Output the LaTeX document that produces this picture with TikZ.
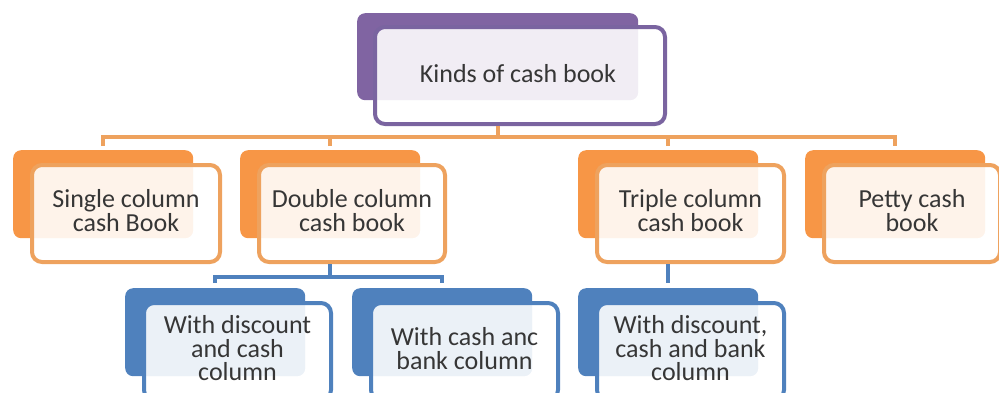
\documentclass[tikz,border=0pt]{standalone}
\usepackage{fontspec}
\setmainfont{Carlito}
\usetikzlibrary{calc}

\definecolor{cpurple}{HTML}{8064A2}
\definecolor{cpurpleline}{HTML}{7A64A0}
\definecolor{corange}{HTML}{F79646}
\definecolor{corangeline}{HTML}{EEA25E}
\definecolor{cblue}{HTML}{4F81BD}
\definecolor{ctext}{HTML}{363636}

\tikzset{
  backcard/.style={rounded corners=8pt, inner sep=0pt, draw=none, anchor=north west},
  frontcard/.style={rounded corners=10pt, inner sep=0pt, line width=4pt,
    fill=white, fill opacity=0.89, draw opacity=1, anchor=north west},
  cardtext/.style={inner sep=0pt, align=center, text=ctext,
    font=\fontsize{26}{23.5}\selectfont},
  obus/.style={draw=corangeline, line width=4.2pt},
  bbus/.style={draw=cblue, line width=4.2pt},
}

% a tab card: back plate, an offset translucent front plate, and its text
% #1 name, #2 plate colour, #3 border colour, #4 back corner, #5 front width, #6 text
\newcommand{\tabcard}[6]{%
  \node[backcard, fill=#2, minimum width=180pt, minimum height=88pt] (#1b) at #4 {};
  \node[frontcard, draw=#3, minimum width=#5pt, minimum height=97pt] (#1)
    at ($(#1b.north west)+(17,13)$) {};
  \node[cardtext] (#1t) at ($(#1.center)+(0,-3)$) {#6};
}

\begin{document}
\begin{tikzpicture}[x=1pt, y=-1pt]
  \path[use as bounding box] (0,0) rectangle (999,392);

  % root
  \node[backcard, fill=cpurple, minimum width=281pt, minimum height=87pt] (rootb) at (357,13) {};
  \node[frontcard, draw=cpurpleline, minimum width=290pt, minimum height=97pt] (root)
    at ($(rootb.north west)+(16,12)$) {};
  \node[cardtext] (roott) at ($(root.center)+(-2,-2)$) {Kinds of cash book};

  % first level
  \tabcard{sgl}{corange}{corangeline}{(13,150)}{188}{Single column\\cash Book}
  \tabcard{dbl}{corange}{corangeline}{(240,150)}{186}{Double column\\cash book}
  \tabcard{trp}{corange}{corangeline}{(578,150)}{187}{Triple column\\cash book}
  \tabcard{pet}{corange}{corangeline}{(805,150)}{176}{Petty cash\\book}

  % second level
  \tabcard{dca}{cblue}{cblue}{(125,288)}{187}{With discount\\and cash\\column}
  \tabcard{cab}{cblue}{cblue}{(352,288)}{187}{With cash anc\\bank column}
  \tabcard{dcb}{cblue}{cblue}{(578,288)}{187}{With discount,\\cash and bank\\column}

  % root to first level
  \coordinate (j1) at ($(rootb.south |- root.south)+(0,11)$);
  \draw[obus] (rootb.south |- root.south) -- (j1);
  \draw[obus] ($(sglb.north)+(0,-4)$) |- (j1) -| ($(petb.north)+(0,-4)$);
  \draw[obus] ($(dblb.north)+(0,-4)$) -- (dblb.north |- j1);
  \draw[obus] ($(trpb.north)+(0,-4)$) -- (trpb.north |- j1);

  % double column to its kinds
  \coordinate (j2) at ($(dblb.south |- dbl.south)+(0,13)$);
  \draw[bbus] (dblb.south |- dbl.south) -- (j2);
  \draw[bbus] ($(dcab.north)+(0,-5)$) |- (j2) -| ($(cabb.north)+(0,-5)$);

  % triple column to its kind
  \draw[bbus] (trpb.south |- trp.south) -- ($(dcbb.north)+(0,-5)$);
\end{tikzpicture}
\end{document}
